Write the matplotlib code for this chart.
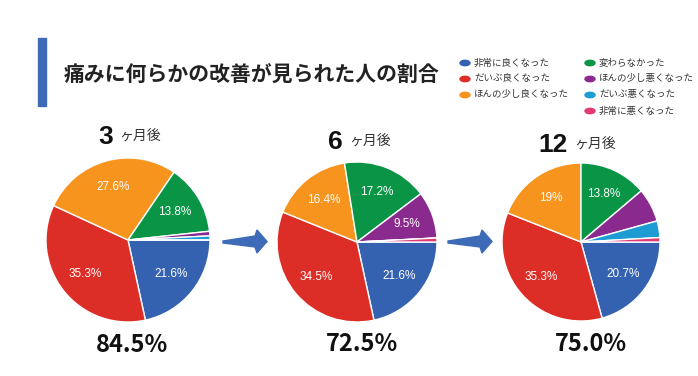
import matplotlib.pyplot as plt
import numpy as np
from matplotlib.patches import Polygon, Rectangle

plt.rcParams['font.family'] = ['Noto Sans CJK JP', 'DejaVu Sans']

# categories (legend order) and colors
categories = ['非常に良くなった', 'だいぶ良くなった', 'ほんの少し良くなった', '変わらなかった',
              'ほんの少し悪くなった', 'だいぶ悪くなった', '非常に悪くなった']
colors = ['#3562b0', '#dc2e27', '#f7941e', '#0a9446', '#8b2a8e', '#1c9cd2', '#e03a70']

# survey shares (%) at each follow-up
periods = ['3', '6', '12']
share_3m = [21.6, 35.3, 27.6, 13.8, 0.9, 0.8, 0.0]
share_6m = [21.6, 34.5, 16.4, 17.2, 9.5, 0.0, 0.8]
share_12m = [20.7, 35.3, 19.0, 13.8, 6.9, 3.4, 0.9]
improved = ['84.5%', '72.5%', '75.0%']

W, H = 698, 376
fig = plt.figure(figsize=(W / 100, H / 100), dpi=100)


def fx(x):
    return x / W


def fy(y):
    return 1 - y / H


# title with blue bar
fig.patches.append(Rectangle((fx(38), fy(106)), fx(8), 68 / H, transform=fig.transFigure,
                             color='#3d6bb8', zorder=1))
fig.text(fx(64), fy(75), '痛みに何らかの改善が見られた人の割合', fontsize=15, fontweight='bold',
         color='#222222', va='center', ha='left')

# legend in two columns
leg_pos = [(465, 63), (465, 79), (465, 95), (590, 63), (590, 79), (590, 95), (590, 111)]
for (lx, ly), lab, c in zip(leg_pos, categories, colors):
    fig.patches.append(plt.Circle((fx(lx), fy(ly)), 5 / W, transform=fig.transFigure,
                                  color=c))
    fig.text(fx(lx + 9), fy(ly), lab, fontsize=6.8, color='#333333', va='center', ha='left')

# pies
pie_geo = [(128, 240, 82), (357, 242, 80), (581, 242, 79)]
head_pos = [(116, 137), (346, 142), (571, 145)]
pct_pos = [(132, 345), (362, 344), (591, 344)]
shares = [share_3m, share_6m, share_12m]

for (cx, cy, r), vals, (hx, hy), (px, py), per, tot in zip(pie_geo, shares, head_pos, pct_pos,
                                                            periods, improved):
    ax = fig.add_axes([fx(cx - r), fy(cy + r), 2 * r / W, 2 * r / H])
    wedges, _ = ax.pie(vals, colors=colors, startangle=0, counterclock=False,
                       wedgeprops=dict(edgecolor='white', linewidth=1))
    ax.set_aspect('equal')
    ax.set_xlim(-1, 1)
    ax.set_ylim(-1, 1)
    for w, v in zip(wedges, vals):
        if v < 8:
            continue
        ang = np.deg2rad((w.theta1 + w.theta2) / 2)
        ax.text(0.67 * np.cos(ang), 0.67 * np.sin(ang), f'{v:g}%', color='white',
                fontsize=8.5, family='Liberation Sans', ha='center', va='center')
    # heading
    fig.text(fx(hx - 3), fy(hy), per, fontsize=19, fontweight='bold', color='#111111',
             ha='right', va='center', family='Liberation Sans')
    fig.text(fx(hx + 3), fy(hy - 1), 'ヶ月後', fontsize=10, color='#333333', ha='left',
             va='center')
    fig.text(fx(px), fy(py), tot, fontsize=17, fontweight='bold', color='#111111',
             ha='center', va='center')

# arrows between pies
for ax0 in [223, 448]:
    pts = [(ax0, 241), (ax0 + 32, 236), (ax0 + 34, 230), (ax0 + 44, 241.5),
           (ax0 + 34, 253), (ax0 + 32, 247), (ax0, 243)]
    fig.patches.append(Polygon([(fx(x), fy(y)) for x, y in pts], closed=True,
                               transform=fig.transFigure, color='#3d6bb8'))

fig.savefig('out.png', dpi=100)
